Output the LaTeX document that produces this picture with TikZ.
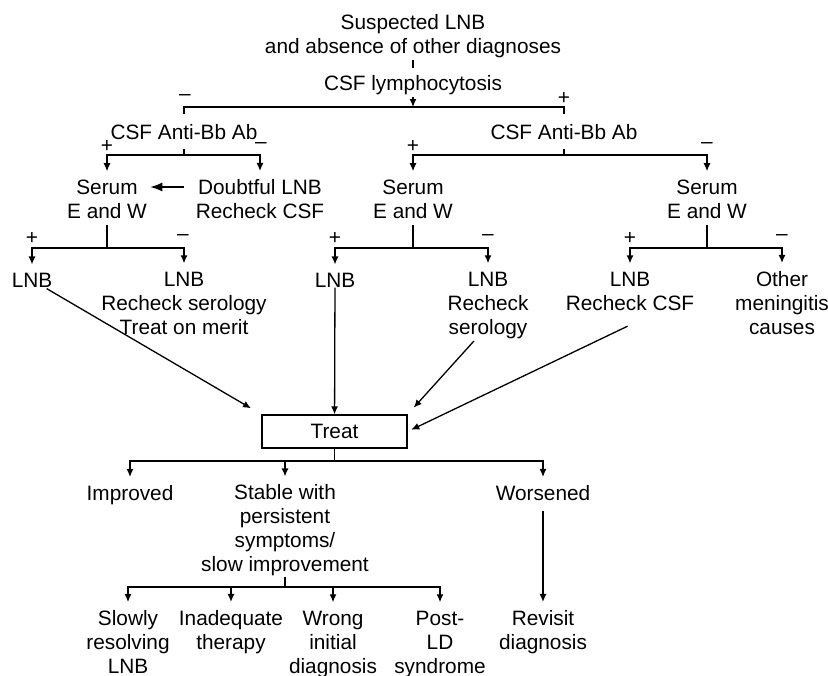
\documentclass[tikz,border=0pt]{standalone}
\usepackage{fontspec}
\setmainfont{Liberation Sans}
\usetikzlibrary{arrows.meta}
\tikzset{
  txt/.style={align=center, inner sep=0pt, font=\fontsize{10.4}{12}\selectfont},
  sgn/.style={inner sep=0pt, font=\fontsize{10.4}{12}\selectfont},
  ln/.style={line width=0.65pt},
  arr/.style={ln, -{Latex[length=4pt,width=3.5pt]}},
  br/.style={arr, shorten >=4pt},
  box/.style={txt, draw, line width=0.65pt, minimum width=72.5pt, minimum height=16.5pt},
}
\begin{document}
\begin{tikzpicture}[x=0.5pt, y=-0.5pt]
  \useasboundingbox (0,0) rectangle (828,675);

  % top
  \node[txt] (susp) at (413,36) {Suspected LNB\\and absence of other diagnoses};
  \node[txt] (lymph) at (413,85) {CSF lymphocytosis};
  \draw[ln, shorten <=1pt, shorten >=3.5pt] (susp) -- (lymph);

  \coordinate (jTop) at (413,107);
  \draw[arr, shorten <=1pt] (lymph) -- (jTop);
  \node[txt] (abL) at (184,132) {CSF Anti-Bb Ab};
  \node[txt] (abR) at (564,132) {CSF Anti-Bb Ab};
  \draw[ln, shorten <=5pt, shorten >=5pt] (abL.north) |- (jTop) -| (abR.north);
  \node[sgn] (sgTopM) at (185,98) {–};
  \node[sgn] (sgTopP) at (564,98) {+};

  % second level
  \coordinate (jL) at (184,155);
  \coordinate (jR) at (564,155);
  \node[txt] (serA) at (107,199) {Serum\\E and W};
  \node[txt] (doubt) at (260,199) {Doubtful LNB\\Recheck CSF};
  \node[txt] (serB) at (413,199) {Serum\\E and W};
  \node[txt] (serC) at (707,199) {Serum\\E and W};
  \draw[ln, shorten <=4.5pt] (abL) -- (jL);
  \draw[ln, shorten <=4.5pt] (abR) -- (jR);
  \draw[br] (jL) -| (serA);
  \draw[br] (jL) -| (doubt);
  \draw[br] (jR) -| (serB);
  \draw[br] (jR) -| (serC);
  \draw[ln, -{Latex[length=6pt,width=4.5pt]}, shorten <=5.5pt, shorten >=1.5pt]
    ([yshift=6pt]doubt.west) -- ([yshift=6pt]serA.east);
  \node[sgn] (sgLP) at (107,146) {+};
  \node[sgn] (sgLM) at (261,146) {–};
  \node[sgn] (sgRP) at (413,146) {+};
  \node[sgn] (sgRM) at (707,146) {–};

  % third level
  \coordinate (jA) at (107,248);
  \coordinate (jB) at (413,248);
  \coordinate (jC) at (707,248);
  \node[txt] (lnbA) at (32,280) {LNB};
  \node[txt] (lnbB) at (184,303) {LNB\\Recheck serology\\Treat on merit};
  \node[txt] (lnbC) at (335,280) {LNB};
  \node[txt] (lnbD) at (488,305) {LNB\\Recheck\\serology};
  \node[txt] (lnbE) at (630,291) {LNB\\Recheck CSF};
  \node[txt] (lnbF) at (782,303) {Other\\meningitis\\causes};
  \draw[ln, shorten <=3pt] (serA) -- (jA);
  \draw[ln, shorten <=3pt] (serB) -- (jB);
  \draw[ln, shorten <=3pt] (serC) -- (jC);
  \draw[br] (jA) -| (lnbA);
  \draw[br] (jA) -| (lnbB);
  \draw[br] (jB) -| (lnbC);
  \draw[br] (jB) -| (lnbD);
  \draw[br] (jC) -| (lnbE);
  \draw[br] (jC) -| (lnbF);
  \node[sgn] (sgAP) at (32,238) {+};
  \node[sgn] (sgAM) at (183,238) {–};
  \node[sgn] (sgBP) at (335,238) {+};
  \node[sgn] (sgBM) at (488,238) {–};
  \node[sgn] (sgCP) at (630,238) {+};
  \node[sgn] (sgCM) at (782,238) {–};

  % treat
  \node[box] (treat) at (334.5,431.5) {Treat};
  \draw[arr, shorten <=1pt, shorten >=6pt] (lnbA) -- (treat.north west);
  \draw[arr] (lnbC) -- (treat);
  \draw[arr, shorten <=1.5pt, shorten >=4.5pt] ([xshift=-6pt]lnbD.south) -- (treat.north east);
  \draw[arr, shorten <=18pt, shorten >=2pt] ([xshift=15pt]lnbE.south) -- (treat.east);

  % outcomes
  \coordinate (jT) at (334.5,461);
  \draw[ln] (treat) -- (jT);
  \node[txt] (impr) at (130,495) {Improved};
  \node[txt] (stab) at (285,530.5) {Stable with\\persistent\\symptoms/\\slow improvement};
  \node[txt] (wors) at (543,493) {Worsened};
  \draw[br] (jT) -| (impr);
  \draw[br] (jT) -| (stab);
  \draw[br] (jT) -| (wors);

  \coordinate (jS) at (285,587);
  \draw[ln] (stab) -- (jS);
  \node[txt] (slow) at (128,642) {Slowly\\resolving\\LNB};
  \node[txt] (inad) at (231,632) {Inadequate\\therapy};
  \node[txt] (wrong) at (333,644) {Wrong\\initial\\diagnosis};
  \node[txt] (post) at (440,644) {Post-\\LD\\syndrome};
  \node[txt] (revis) at (543,632) {Revisit\\diagnosis};
  \draw[br] (jS) -| (slow);
  \draw[br] (jS) -| (inad);
  \draw[br] (jS) -| (wrong);
  \draw[br] (jS) -| (post);
  \draw[br, shorten <=5pt] (wors) -- (revis);
\end{tikzpicture}
\end{document}
